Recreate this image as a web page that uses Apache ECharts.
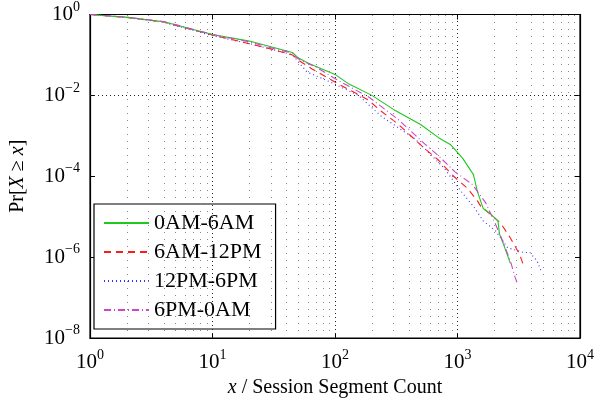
<!DOCTYPE html>
<html>
<head>
<meta charset="utf-8">
<script src="https://cdn.jsdelivr.net/npm/echarts@6/dist/echarts.min.js"></script>
<style>
  html, body { margin: 0; padding: 0; background: #fff; }
  #chart { width: 597px; height: 404px; }
</style>
</head>
<body>
<div id="chart"></div>
<script>
// CCDF data, [segment count, Pr[X >= x]]
const names = ['0AM-6AM', '6AM-12PM', '12PM-6PM', '6PM-0AM'];

const night = [
  [1, 1], [2, 0.85], [4, 0.66], [10, 0.32], [20, 0.22], [30, 0.16], [45, 0.115],
  [50, 0.085], [60, 0.063], [100, 0.033], [130, 0.019], [200, 0.01], [300, 0.0045],
  [500, 0.0019], [700, 0.0009], [880, 0.0006], [1100, 0.00028], [1350, 0.00011],
  [1450, 0.000043], [1620, 0.000016], [1860, 0.0000118], [2140, 0.0000079],
  [2200, 0.0000038], [2400, 0.0000019], [2700, 0.0000007]
];
const morning = [
  [1, 1], [2, 0.85], [4, 0.65], [10, 0.31], [20, 0.19], [30, 0.14], [45, 0.1],
  [50, 0.075], [65, 0.045], [107, 0.019], [186, 0.0078], [240, 0.004], [324, 0.002],
  [537, 0.00049], [690, 0.00026], [930, 0.0001], [1200, 0.000051], [1450, 0.000025],
  [1550, 0.000018], [2240, 0.000007], [2630, 0.0000034], [3000, 0.0000017],
  [3240, 0.0000011], [3470, 0.0000006]
];
const afternoon = [
  [1, 1], [2, 0.84], [4, 0.64], [10, 0.3], [20, 0.19], [30, 0.14], [45, 0.1],
  [59, 0.038], [93, 0.021], [155, 0.01], [240, 0.003], [447, 0.00085], [776, 0.00016],
  [1100, 0.000038], [1350, 0.000018], [1620, 0.0000079], [2040, 0.0000045],
  [2570, 0.0000017], [3470, 0.0000013], [3900, 0.0000013], [4470, 0.0000008],
  [4790, 0.00000047]
];
const evening = [
  [1, 1], [2, 0.86], [4, 0.67], [10, 0.32], [20, 0.21], [30, 0.15], [45, 0.11],
  [50, 0.08], [70, 0.05], [110, 0.022], [190, 0.009], [330, 0.0025], [550, 0.0006],
  [700, 0.00032], [950, 0.00013], [1320, 0.000063], [1700, 0.000022],
  [2040, 0.0000066], [2340, 0.0000025], [2700, 0.00000081], [2950, 0.00000032],
  [3090, 0.00000022]
];

// minor grid positions 2..9 x 10^k
const minorX = [];
for (let k = 0; k < 4; k++) {
  for (let m = 2; m <= 9; m++) minorX.push(m * Math.pow(10, k));
}
const majorX = [10, 100, 1000];
const majorY = [1e-2, 1e-4, 1e-6];

const serif = 'Liberation Serif';

function powLabel(v) {
  const e = Math.round(Math.log10(v));
  return '10{sup|' + (e < 0 ? '\u2212' + (-e) : e) + '}';
}
const labelRich = {
  sup: { fontSize: 14, fontFamily: serif, color: '#000', padding: [0, 0, 15, 0] }
};

const chart = echarts.init(document.getElementById('chart'));

const lineOf = (name, data, color, type, z) => ({
  name: name,
  type: 'line',
  data: data,
  showSymbol: false,
  symbol: 'none',
  z: z,
  lineStyle: { color: color, width: 1.1, type: type },
  itemStyle: { color: color }
});

chart.setOption({
  animation: false,
  grid: {
    left: 87, right: 17, top: 12, bottom: 66,
    show: true, borderColor: '#000', borderWidth: 1.2, backgroundColor: '#fff'
  },
  legend: {
    left: 94, top: 204,
    orient: 'vertical',
    data: names,
    backgroundColor: '#fff',
    borderColor: '#000',
    borderWidth: 1.2,
    borderRadius: 0,
    padding: [8, 14, 8, 9],
    itemGap: 7,
    itemWidth: 45,
    itemHeight: 14,
    itemStyle: { opacity: 0 },
    textStyle: { fontFamily: serif, fontSize: 22, color: '#000' }
  },
  xAxis: [{
    type: 'log', logBase: 10, min: 1, max: 10000, interval: 1,
    name: '{i|x} / Session Segment Count',
    nameLocation: 'middle', nameGap: 40,
    nameTextStyle: {
      fontFamily: serif, fontSize: 20, color: '#000',
      rich: { i: { fontFamily: serif, fontStyle: 'italic', fontSize: 20, color: '#000' } }
    },
    axisLine: { lineStyle: { color: '#000', width: 1.2 } },
    axisTick: { inside: true, length: 5, lineStyle: { color: '#000' } },
    axisLabel: {
      formatter: powLabel, rich: labelRich, margin: 10,
      fontFamily: serif, fontSize: 21, color: '#000'
    },
    splitLine: { show: false }
  }, {
    type: 'log', logBase: 10, min: 1, max: 10000, interval: 1, position: 'top',
    axisLine: { lineStyle: { color: '#000', width: 1.2 } },
    axisTick: { inside: true, length: 5, lineStyle: { color: '#000' } },
    axisLabel: { show: false },
    splitLine: { show: false }
  }],
  yAxis: [{
    type: 'log', logBase: 10, min: 1e-8, max: 1, interval: 2,
    name: '{n|Pr[}{i|X}{n| \u2265 }{i|x}{n|]}',
    nameLocation: 'middle', nameGap: 62,
    nameTextStyle: {
      fontFamily: serif, fontSize: 20, color: '#000',
      rich: {
        n: { fontFamily: serif, fontSize: 20, color: '#000' },
        i: { fontFamily: serif, fontStyle: 'italic', fontSize: 20, color: '#000' }
      }
    },
    axisLine: { lineStyle: { color: '#000', width: 1.2 } },
    axisTick: { inside: true, length: 5, lineStyle: { color: '#000' } },
    axisLabel: {
      formatter: powLabel, rich: labelRich, margin: 10,
      fontFamily: serif, fontSize: 21, color: '#000'
    },
    splitLine: { show: false }
  }, {
    type: 'log', logBase: 10, min: 1e-8, max: 1, interval: 2, position: 'right',
    axisLine: { lineStyle: { color: '#000', width: 1.2 } },
    axisTick: { inside: true, length: 5, lineStyle: { color: '#000' } },
    axisLabel: { show: false },
    splitLine: { show: false }
  }],
  series: [
    {
      type: 'line', data: [], z: 1, silent: true,
      markLine: {
        silent: true, symbol: 'none', animation: false,
        label: { show: false },
        lineStyle: { color: '#888', width: 1, type: [1, 6] },
        data: minorX.map(v => ({ xAxis: v }))
      }
    },
    {
      type: 'line', data: [], z: 1, silent: true,
      markLine: {
        silent: true, symbol: 'none', animation: false,
        label: { show: false },
        lineStyle: { color: '#222', width: 1, type: [1, 3] },
        data: majorX.map(v => ({ xAxis: v })).concat(majorY.map(v => ({ yAxis: v })))
      }
    },
    lineOf(names[0], night, '#1ec81e', 'solid', 5),
    lineOf(names[1], morning, '#ff1a1a', [7, 5], 4),
    lineOf(names[2], afternoon, '#3333ff', [1, 3], 3),
    lineOf(names[3], evening, '#cc44cc', [7, 3, 1, 3], 6)
  ]
});
</script>
</body>
</html>
